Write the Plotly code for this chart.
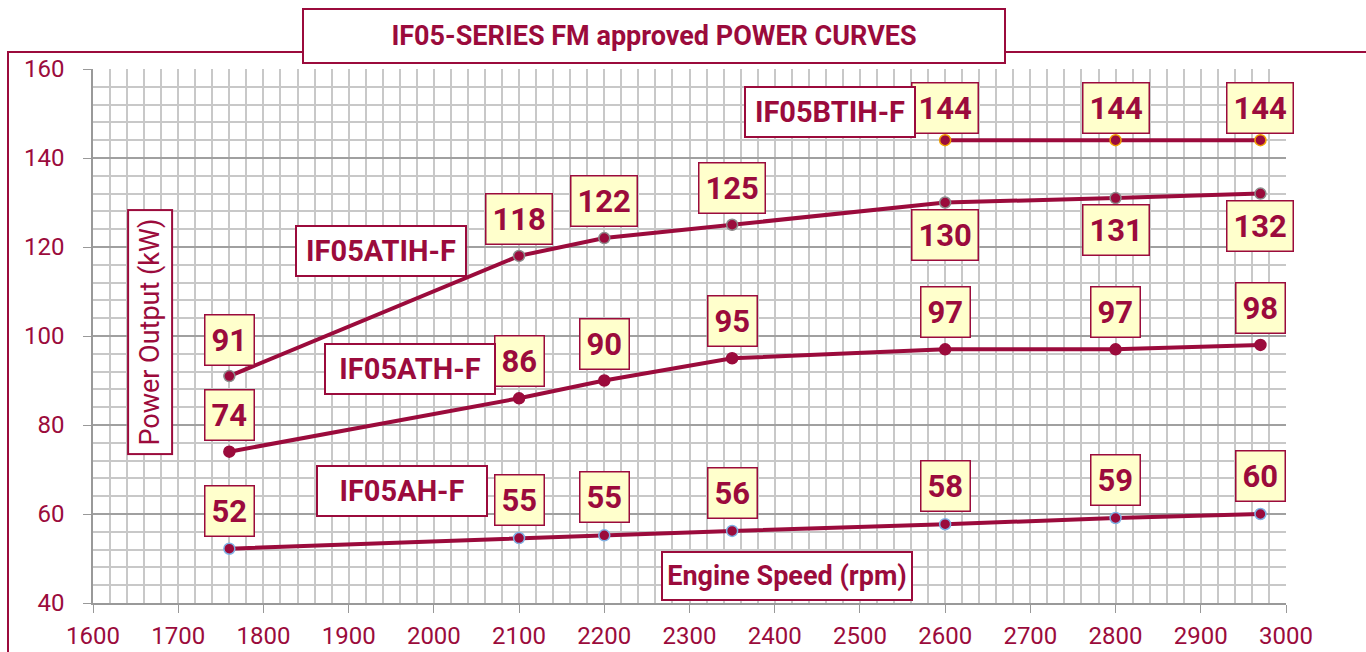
import plotly.graph_objects as go

RED = "#9B0B3C"
FONT = "Roboto, sans-serif"

rpm = [1760, 2100, 2200, 2350, 2600, 2800, 2970]
ah_f = [52.2, 54.6, 55.2, 56.2, 57.7, 59.1, 60.0]
ath_f = [74, 86, 90, 95, 97, 97, 98]
atih_f = [91, 118, 122, 125, 130, 131, 132]
btih_rpm = [2600, 2800, 2970]
btih_f = [144, 144, 144]

series = [
    ("IF05AH-F", rpm, ah_f, "#7FB2E5", [38] * 7, (1963, 65.2)),
    ("IF05ATH-F", rpm, ath_f, RED, [37] * 7, (1972, 92.6)),
    ("IF05ATIH-F", rpm, atih_f, "#8C8C8C", [36, 37, 37, 37, -32, -32, -32], (1938, 119.1)),
    ("IF05BTIH-F", btih_rpm, btih_f, "#F0A000", [32] * 3, (2465, 150.3)),
]

title_text = "IF05-SERIES FM approved POWER CURVES"
x_title = "Engine Speed (rpm)"
y_title = "Power Output (kW)"

W, H = 1366, 652
L, R, T, B = 93, 1286, 69, 603


def px(x):
    return (x - L) / (R - L)


def py(y):
    return (B - y) / (B - T)


fig = go.Figure()
annotations = []
for name, xs, ys, outline, shifts, lab in series:
    fig.add_trace(go.Scatter(
        x=xs, y=ys, mode="lines+markers", name=name,
        line=dict(color=RED, width=4),
        marker=dict(size=11, color=RED, line=dict(color=outline, width=1.5)),
        showlegend=False,
    ))
    for x, y, s in zip(xs, ys, shifts):
        annotations.append(dict(
            x=x, y=y, xref="x", yref="y", text=f"<b>{y:.0f}</b>", showarrow=False,
            yshift=s, bgcolor="#FFFFCC", bordercolor=RED, borderwidth=1.5, borderpad=6,
            font=dict(family=FONT, size=31, color=RED),
        ))
    annotations.append(dict(
        x=lab[0], y=lab[1], xref="x", yref="y", text=f"<b>{name}</b>", showarrow=False,
        bgcolor="white", bordercolor=RED, borderwidth=2, borderpad=4, width=160, height=40,
        font=dict(family=FONT, size=29, color=RED),
    ))

annotations.append(dict(
    x=2414, y=46, xref="x", yref="y", text=f"<b>{x_title}</b>", showarrow=False,
    bgcolor="white", bordercolor=RED, borderwidth=2, borderpad=4, width=240, height=38,
    font=dict(family=FONT, size=27, color=RED),
))
annotations.append(dict(
    x=1667, y=100.9, xref="x", yref="y", text=y_title, showarrow=False, textangle=-90,
    bgcolor="white", bordercolor=RED, borderwidth=2, borderpad=5, width=232, height=32,
    font=dict(family=FONT, size=27, color=RED),
))
annotations.append(dict(
    x=px(653.5), y=py(36), xref="paper", yref="paper", xanchor="center", yanchor="middle",
    text=f"<b>{title_text}</b>",
    showarrow=False, bgcolor="white", bordercolor=RED, borderwidth=2, borderpad=4,
    width=692, height=44, font=dict(family=FONT, size=27, color=RED),
))

shapes = [dict(
    type="path", xref="paper", yref="paper",
    path=f"M {px(8)} {py(670)} L {px(8)} {py(52)} L {px(1380)} {py(52)}",
    line=dict(color=RED, width=2),
)]

fig.update_layout(
    width=W, height=H, margin=dict(l=L, r=W - R, t=T, b=H - B, autoexpand=False),
    paper_bgcolor="white", plot_bgcolor="white",
    annotations=annotations, shapes=shapes,
    xaxis=dict(
        range=[1600, 3000], dtick=100, tick0=1600, showgrid=True, gridcolor="#C8C8C8", gridwidth=1.5,
        minor=dict(dtick=20, showgrid=True, gridcolor="#C8C8C8", gridwidth=1.5),
        ticks="outside", ticklen=8, tickcolor="#999999", showline=True, linecolor="#999999", linewidth=1.5,
        tickfont=dict(family=FONT, size=24, color=RED), zeroline=False, automargin=False,
        ticklabelstandoff=2,
    ),
    yaxis=dict(
        range=[40, 160], dtick=20, showgrid=True, gridcolor="#A0A0A0", gridwidth=1.5,
        minor=dict(dtick=4, showgrid=True, gridcolor="#C8C8C8", gridwidth=1.5),
        ticks="outside", ticklen=8, tickcolor="#999999", showline=True, linecolor="#999999", linewidth=1.5,
        tickfont=dict(family=FONT, size=24, color=RED), zeroline=False, ticklabelstandoff=14,
        automargin=False,
    ),
)

fig.write_html("out.html", config={"displayModeBar": False},
               post_script="document.body.style.margin='0';document.body.style.overflow='hidden';")
